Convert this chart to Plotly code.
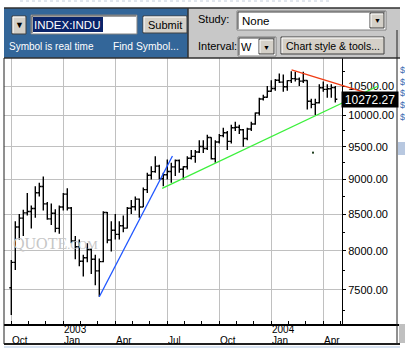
import math
import pandas as pd
import plotly.graph_objects as go

# ---------------- data (weekly DJIA bars) ----------------
FIRST_WEEK = "2002-10-07"
OPEN = [7528, 7850, 8322, 8444, 8517, 8537, 8579, 8805, 8896, 8645, 8433, 8512, 8303,
        8601, 8785, 8587, 8131, 8054, 7865, 7909, 8018, 7891, 7740, 7859, 8522, 8145,
        8277, 8221, 8338, 8306, 8583, 8604, 8713, 8601, 8850, 9062, 9117, 9200, 9011,
        9070, 9119, 9189, 9285, 9153, 9191, 9321, 9349, 9416, 9503, 9471, 9644, 9313,
        9573, 9674, 9721, 9583, 9801, 9810, 9768, 9629, 9782, 9862, 10042, 10278, 10306,
        10409, 10458, 10600, 10568, 10488, 10593, 10628, 10620, 10584, 10596, 10240, 10186,
        10213, 10470, 10442, 10452, 10472]
HIGH = [7880, 8400, 8500, 8560, 8800, 8620, 8900, 8950, 9043, 8670, 8650, 8570, 8620,
        8800, 8870, 8600, 8200, 8150, 7950, 8100, 8030, 7950, 7900, 8540, 8530, 8400,
        8500, 8400, 8480, 8600, 8700, 8750, 8720, 8880, 9100, 9200, 9350, 9220, 9100,
        9300, 9250, 9300, 9300, 9200, 9350, 9450, 9450, 9600, 9600, 9690, 9650, 9600,
        9700, 9800, 9750, 9850, 9900, 9850, 9780, 9800, 9900, 10050, 10300, 10350, 10500,
        10600, 10620, 10720, 10700, 10600, 10760, 10750, 10650, 10750, 10600, 10280, 10280,
        10530, 10580, 10530, 10530, 10500]
LOW = [7197, 7750, 8150, 8200, 8480, 8300, 8450, 8750, 8550, 8420, 8350, 8250, 8230,
       8550, 8550, 8100, 7890, 7800, 7670, 7850, 7700, 7560, 7416, 7850, 8100, 7990,
       8150, 8150, 8250, 8300, 8500, 8550, 8450, 8600, 8800, 9000, 9100, 9000, 8900,
       9000, 8950, 9050, 9100, 9000, 9150, 9300, 9250, 9400, 9400, 9450, 9300, 9250,
       9550, 9650, 9450, 9550, 9750, 9700, 9500, 9600, 9750, 9850, 10000, 10250, 10300,
       10400, 10420, 10550, 10400, 10420, 10550, 10580, 10500, 10550, 10100, 10120, 10010,
       10200, 10400, 10300, 10300, 10220]
CLOSE = [7850, 8322, 8444, 8517, 8537, 8579, 8805, 8896, 8645, 8433, 8512, 8303, 8601,
         8785, 8587, 8131, 8054, 7865, 7909, 8018, 7891, 7740, 7859, 8522, 8145, 8277,
         8221, 8338, 8306, 8583, 8604, 8713, 8601, 8850, 9062, 9117, 9200, 9011, 9070,
         9119, 9189, 9285, 9153, 9191, 9321, 9349, 9416, 9503, 9471, 9644, 9313, 9573,
         9674, 9721, 9583, 9801, 9810, 9768, 9629, 9782, 9862, 10042, 10278, 10306, 10409,
         10458, 10600, 10568, 10488, 10593, 10628, 10620, 10584, 10596, 10240, 10186, 10213,
         10470, 10442, 10452, 10472, 10272.27]
WEEKS = pd.date_range(FIRST_WEEK, periods=len(CLOSE), freq="7D")
LAST_PRICE = CLOSE[-1]

QUARTER_TICKS = ["2002-10-07", "2003-01-06", "2003-04-07", "2003-07-07",
                 "2003-10-06", "2004-01-05", "2004-04-05"]
QUARTER_LABELS = ["Oct", "Jan", "Apr", "Jul", "Oct", "Jan", "Apr"]
YEAR_TICKS = ["2003-01-06", "2004-01-05"]
YEAR_LABELS = ["2003", "2004"]

PRICE_TICKS = [7500, 8000, 8500, 9000, 9500, 10000, 10500]
PRICE_LABELS = ["7500.00", "8000.00", "8500.00", "9000.00", "9500.00", "10000.00", "10500.00"]
PRICE_MINOR = [7250, 7750, 8250, 8750, 9250, 9750, 10250, 10750]

# user-drawn trend lines
BLUE_X = ["2003-03-10", "2003-07-16"]
BLUE_Y = [7416, 9356]
GREEN_X = ["2003-06-28", "2004-07-10"]
GREEN_Y = [8869, 10500]
RED_X = ["2004-02-09 12:00", "2004-06-22 12:00"]
RED_Y = [10781, 10374]
DOT_X = ["2004-03-18"]
DOT_Y = [9407]

# ---------------- geometry ----------------
W, H = 405, 351
PL, PR, PT, PB = 4, 400, 58, 324          # paper box in page pixels
AXIS_RIGHT = 342                           # right price axis
PW, PH = PR - PL, PB - PT
DAYS_PER_PX = 1.75
X0 = pd.Timestamp(FIRST_WEEK) - pd.Timedelta(days=7.3 * DAYS_PER_PX)
X1_MAIN = X0 + pd.Timedelta(days=(AXIS_RIGHT - PL) * DAYS_PER_PX)
X1_FULL = X0 + pd.Timedelta(days=PW * DAYS_PER_PX)
YR = [3.850702, 4.041246]

def PX(x):
    return (x - PL) / PW

def PY(y):
    return (PB - y) / PH

qt = pd.to_datetime(QUARTER_TICKS)
minor_x = []
for t in qt:
    minor_x += [t + pd.Timedelta(days=30.33), t + pd.Timedelta(days=60.67)]

FONT = "Liberation Sans, Arial, sans-serif"

fig = go.Figure()

# watermark (behind bars)
fig.add_trace(go.Scatter(
    x=["2002-10-10"], y=[8078], mode="text",
    text=["QUOTE<span style='font-size:12px'>.COM</span>"],
    textposition="middle right",
    textfont=dict(family="Liberation Serif, Times New Roman, serif", size=16, color="#c6c6c6"),
    hoverinfo="skip", showlegend=False))

fig.add_trace(go.Ohlc(
    x=WEEKS, open=OPEN, high=HIGH, low=LOW, close=CLOSE,
    increasing=dict(line=dict(color="black", width=1.4)),
    decreasing=dict(line=dict(color="black", width=1.4)),
    tickwidth=0.5, hoverinfo="skip", showlegend=False))

for xs, ys, col in [(BLUE_X, BLUE_Y, "#1f56ff"), (GREEN_X, GREEN_Y, "#3cf03c"), (RED_X, RED_Y, "#f03c14")]:
    fig.add_trace(go.Scatter(x=xs, y=ys, mode="lines", xaxis="x2", yaxis="y2",
                             line=dict(color=col, width=1.3), hoverinfo="skip", showlegend=False))
fig.add_trace(go.Scatter(x=DOT_X, y=DOT_Y, mode="markers", xaxis="x2", yaxis="y2",
                         marker=dict(color="#204020", size=2, symbol="square"),
                         hoverinfo="skip", showlegend=False))

shapes = []
ann = []

def rect(x0, y0, x1, y1, fill, line=None, lw=1):
    shapes.append(dict(type="rect", xref="paper", yref="paper",
                       x0=PX(x0), x1=PX(x1), y0=PY(y0), y1=PY(y1), fillcolor=fill,
                       line=dict(color=line or fill, width=lw if line else 0), layer="above"))

def line(x0, y0, x1, y1, color, lw=1, dash=None):
    d = dict(color=color, width=lw)
    if dash:
        d["dash"] = dash
    shapes.append(dict(type="line", xref="paper", yref="paper",
                       x0=PX(x0), x1=PX(x1), y0=PY(y0), y1=PY(y1), line=d, layer="above"))

def text(t, x, y, size, color="black", anchor="left", family=FONT):
    ann.append(dict(text=t, x=PX(x), y=PY(y), xref="paper", yref="paper", showarrow=False,
                    xanchor=anchor, yanchor="middle", font=dict(family=family, size=size, color=color),
                    borderpad=0))

def button(x0, y0, x1, y1):
    rect(x0, y0, x1, y1, "#d4d0c8", "#404040", 1)
    line(x0 + 1, y0 + 1, x1 - 1, y0 + 1, "white")
    line(x0 + 1, y0 + 1, x0 + 1, y1 - 1, "white")

def field(x0, y0, x1, y1):
    rect(x0, y0, x1, y1, "white", "#808080", 1)
    line(x0 + 1, y0 + 1, x1 - 1, y0 + 1, "#404040")
    line(x0 + 1, y0 + 1, x0 + 1, y1 - 1, "#404040")

# ---- top control panel ----
line(20, 1, 330, 1, "#c4cedc", 1, "dot")
rect(4, 8, 188, 58, "#336699")
rect(188, 8, 400, 58, "#c8c8c8")
line(4, 8, 400, 8, "#303030", 1.5)
line(188, 8, 188, 58, "#303030", 1.5)
line(4, 58, 400, 58, "#303030", 1.5)
button(12, 16, 26, 34)
text("▼", 19, 25, 9, anchor="center")
field(31, 15, 137, 34)
rect(33, 17, 103, 32, "#0a246a")
text("INDEX:INDU", 33, 25, 11.5, "white")
button(143, 16, 187, 33)
text("Submit", 165, 25, 11, anchor="center")
text("Symbol is real time", 8, 46.5, 10, "white")
text("Find Symbol...", 112, 46.5, 10.3, "white")
text("Study:", 197, 19, 11)
field(237, 11, 386, 30)
text("None", 241, 21, 11.5)
button(370, 13, 384, 28)
text("▼", 377, 21, 7, anchor="center")
text("Interval:", 197, 46, 11)
field(238, 37, 276, 56)
text("W", 240, 47, 11)
button(259, 39, 274, 54)
text("▼", 266.5, 47, 7, anchor="center")
button(281, 37, 384, 54)
text("Chart style & tools...", 332.5, 46, 10.5, anchor="center")

# ---- frame and right strip ----
line(397, 30, 397, 344, "#202020", 1)
line(4, 58, 4, 344, "#202020", 1)
line(4, 344, 400, 344, "#202020", 2)
line(4, 347, 400, 347, "#c8d8ec", 1.5)
rect(399, 324, 405, 343, "#c0c0c0")
for yy in [70, 82, 93, 105, 117]:
    text("$", 398.5, yy, 9, "#3a6cb0")
rect(398, 142, 405, 155, "#b8c8e0")

# ---- date labels ----
for t, lab in zip(QUARTER_TICKS, QUARTER_LABELS):
    ann.append(dict(text=lab, x=t, xref="x", y=PY(339.5), yref="paper", showarrow=False,
                    xanchor="left", yanchor="middle", xshift=0, borderpad=0, height=10,
                    font=dict(family=FONT, size=10, color="black")))
for t, lab in zip(YEAR_TICKS, YEAR_LABELS):
    ann.append(dict(text=lab, x=t, xref="x", y=PY(329), yref="paper", showarrow=False,
                    xanchor="left", yanchor="middle", xshift=0, borderpad=0, height=9,
                    font=dict(family=FONT, size=10, color="black")))

# ---- last price box ----
ann.append(dict(text=f"{LAST_PRICE:.2f}", xref="x domain", x=1, xshift=-1, xanchor="left",
                yref="y", y=math.log10(LAST_PRICE), yanchor="middle", showarrow=False,
                bgcolor="black", font=dict(family=FONT, size=12, color="white"),
                width=54, height=13, borderpad=1))

fig.update_layout(
    width=W, height=H,
    margin=dict(l=PL, r=W - PR, t=PT, b=H - PB, pad=0),
    paper_bgcolor="white", plot_bgcolor="rgba(0,0,0,0)",
    showlegend=False,
    shapes=shapes, annotations=ann,
    xaxis=dict(type="date", domain=[0, (AXIS_RIGHT - PL) / PW], anchor="y",
               range=[X0, X1_MAIN], tickmode="array", tickvals=QUARTER_TICKS,
               showticklabels=False, ticks="inside", ticklen=3, tickcolor="black",
               showgrid=True, gridcolor="#c0c0c0", gridwidth=1, showline=False, zeroline=False,
               rangeslider=dict(visible=False),
               minor=dict(tickmode="array", tickvals=minor_x, ticks="inside", ticklen=3,
                          tickcolor="black", showgrid=False)),
    yaxis=dict(type="log", range=YR, side="right", anchor="x", domain=[0, 1],
               tickmode="array", tickvals=PRICE_TICKS, ticktext=PRICE_LABELS,
               ticks="outside", ticklen=3, tickcolor="black", showline=True,
               linecolor="black", linewidth=1, showgrid=True, gridcolor="#c0c0c0",
               zeroline=False, tickfont=dict(family=FONT, size=11, color="black"),
               minor=dict(tickmode="array", tickvals=PRICE_MINOR, ticks="outside",
                          ticklen=2, tickcolor="black", showgrid=False)),
    yaxis3=dict(type="log", range=YR, overlaying="y", side="left", anchor="x",
                tickmode="array", tickvals=PRICE_TICKS, showticklabels=False,
                ticks="inside", ticklen=3, tickcolor="black", showline=True,
                linecolor="black", showgrid=False, zeroline=False),
    xaxis2=dict(type="date", domain=[0, 1], anchor="y2", range=[X0, X1_FULL],
                showticklabels=False, ticks="", showgrid=False, zeroline=False,
                showline=True, linecolor="black", linewidth=1.5),
    yaxis2=dict(type="log", range=YR, domain=[0, 1], anchor="x2", visible=False),
)

fig.write_html("out.html")
